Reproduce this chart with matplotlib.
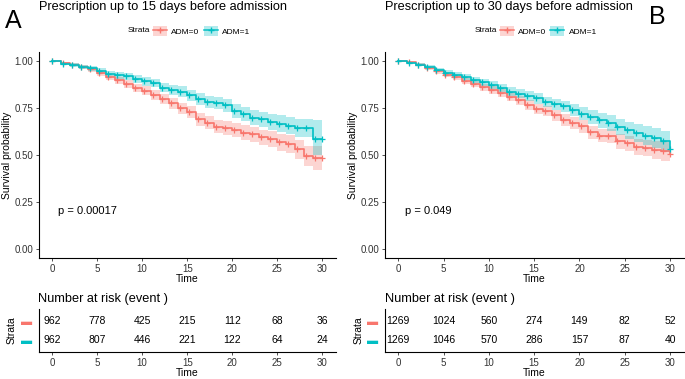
import numpy as np
import matplotlib
matplotlib.use('Agg')
import matplotlib.pyplot as plt
from matplotlib.lines import Line2D
from matplotlib.patches import Patch

plt.rcParams['font.family'] = ['Liberation Sans', 'DejaVu Sans']

RED = '#F8766D'
BLUE = '#00BFC4'

days = list(range(31))
risk_times = [0, 5, 10, 15, 20, 25, 30]
censor_days = [0, 1.2, 2.2, 3.2, 4.2, 5.2, 6.2, 7.2, 8.2, 9.2, 10.2, 11.2, 12.2, 13.2, 14.2,
               15.2, 16.2, 17.2, 18.2, 19.2, 20.2, 21.2, 22.2, 23.2, 24.2, 25.2, 26.2, 27.2,
               28.2, 29.2, 30]

# panel A: prescription up to 15 days
a_red = [1.000, 0.993, 0.983, 0.970, 0.957, 0.939, 0.917, 0.899, 0.879, 0.857, 0.843,
         0.821, 0.800, 0.777, 0.750, 0.728, 0.690, 0.672, 0.652, 0.645, 0.632, 0.620,
         0.610, 0.596, 0.584, 0.569, 0.560, 0.530, 0.497, 0.485, 0.484]
a_red_lo = [1.000, 0.987, 0.974, 0.959, 0.944, 0.924, 0.900, 0.880, 0.858, 0.834, 0.819,
            0.795, 0.772, 0.748, 0.719, 0.696, 0.656, 0.637, 0.616, 0.608, 0.594, 0.581,
            0.570, 0.555, 0.541, 0.524, 0.513, 0.480, 0.442, 0.420, 0.416]
a_red_hi = [1.000, 0.998, 0.991, 0.980, 0.969, 0.953, 0.933, 0.917, 0.898, 0.879, 0.866,
            0.846, 0.826, 0.805, 0.780, 0.759, 0.723, 0.706, 0.687, 0.681, 0.669, 0.658,
            0.649, 0.636, 0.626, 0.612, 0.605, 0.578, 0.549, 0.548, 0.548]
a_blue = [1.000, 0.988, 0.980, 0.971, 0.962, 0.948, 0.934, 0.925, 0.920, 0.906, 0.894,
          0.885, 0.860, 0.848, 0.838, 0.820, 0.800, 0.785, 0.777, 0.765, 0.737, 0.719,
          0.700, 0.690, 0.677, 0.668, 0.657, 0.646, 0.646, 0.587, 0.587]
a_blue_lo = [1.000, 0.981, 0.971, 0.960, 0.949, 0.933, 0.917, 0.907, 0.901, 0.885, 0.871,
             0.861, 0.834, 0.821, 0.809, 0.790, 0.768, 0.752, 0.743, 0.730, 0.700, 0.681,
             0.660, 0.649, 0.634, 0.624, 0.611, 0.598, 0.596, 0.500, 0.500]
a_blue_hi = [1.000, 0.995, 0.989, 0.981, 0.974, 0.962, 0.950, 0.942, 0.938, 0.926, 0.916,
             0.908, 0.885, 0.874, 0.866, 0.849, 0.831, 0.817, 0.810, 0.799, 0.773, 0.757,
             0.739, 0.730, 0.719, 0.711, 0.702, 0.693, 0.693, 0.685, 0.685]
a_risk_red = [962, 778, 425, 215, 112, 68, 36]
a_risk_blue = [962, 807, 446, 221, 122, 64, 24]

# panel B: prescription up to 30 days
b_red = [1.000, 0.995, 0.982, 0.964, 0.946, 0.928, 0.914, 0.896, 0.878, 0.861, 0.847,
         0.829, 0.811, 0.793, 0.766, 0.748, 0.734, 0.712, 0.688, 0.671, 0.653, 0.622,
         0.604, 0.600, 0.573, 0.562, 0.541, 0.537, 0.527, 0.520, 0.505]
b_red_lo = [1.000, 0.991, 0.975, 0.955, 0.935, 0.915, 0.900, 0.880, 0.861, 0.842, 0.827,
            0.808, 0.788, 0.769, 0.740, 0.721, 0.706, 0.682, 0.657, 0.639, 0.619, 0.587,
            0.568, 0.563, 0.534, 0.521, 0.498, 0.492, 0.479, 0.469, 0.450]
b_red_hi = [1.000, 0.999, 0.989, 0.973, 0.957, 0.941, 0.928, 0.912, 0.895, 0.880, 0.867,
            0.850, 0.834, 0.817, 0.792, 0.775, 0.762, 0.742, 0.719, 0.703, 0.687, 0.657,
            0.640, 0.637, 0.612, 0.603, 0.584, 0.582, 0.575, 0.571, 0.560]
b_blue = [1.000, 0.990, 0.982, 0.970, 0.955, 0.940, 0.928, 0.914, 0.900, 0.888, 0.874,
          0.856, 0.838, 0.826, 0.815, 0.802, 0.784, 0.770, 0.760, 0.742, 0.721, 0.703,
          0.685, 0.671, 0.649, 0.631, 0.617, 0.604, 0.592, 0.573, 0.532]
b_blue_lo = [1.000, 0.985, 0.975, 0.961, 0.944, 0.927, 0.914, 0.898, 0.883, 0.870, 0.854,
             0.835, 0.815, 0.802, 0.790, 0.775, 0.756, 0.740, 0.729, 0.709, 0.686, 0.666,
             0.646, 0.630, 0.606, 0.586, 0.570, 0.554, 0.539, 0.516, 0.472]
b_blue_hi = [1.000, 0.995, 0.989, 0.979, 0.966, 0.953, 0.942, 0.930, 0.917, 0.906, 0.894,
             0.877, 0.861, 0.850, 0.840, 0.829, 0.812, 0.800, 0.791, 0.775, 0.756, 0.740,
             0.724, 0.712, 0.692, 0.676, 0.664, 0.654, 0.645, 0.630, 0.592]
b_risk_red = [1269, 1024, 560, 274, 149, 82, 52]
b_risk_blue = [1269, 1046, 570, 286, 157, 87, 40]

W, H = 685, 379
fig = plt.figure(figsize=(W / 100, H / 100), dpi=100)


def add_ax(l, t, r, b):
    return fig.add_axes([l / W, 1 - b / H, (r - l) / W, (b - t) / H])


def style_axis(ax):
    for s in ['top', 'right']:
        ax.spines[s].set_visible(False)
    for s in ['left', 'bottom']:
        ax.spines[s].set_color('black')
        ax.spines[s].set_linewidth(0.8)
    ax.tick_params(colors='#333333', labelsize=7, length=2.5, width=0.6, pad=1.5)
    ax.set_xlim(-1.5, 31.5)
    ax.set_xticks(risk_times)


def survival_panel(ax, groups, pval):
    for s, lo, hi, col in groups:
        ax.fill_between(days, lo, hi, step='post', color=col, alpha=0.3, lw=0)
    for s, lo, hi, col in groups:
        ax.step(days, s, where='post', color=col, lw=1.2)
        ax.plot(censor_days, [s[int(t)] for t in censor_days], '+', color=col, ms=5, mew=0.9)
    style_axis(ax)
    ax.set_ylim(-0.05, 1.05)
    ax.set_yticks([0, 0.25, 0.5, 0.75, 1.0])
    ax.set_yticklabels(['0.00', '0.25', '0.50', '0.75', '1.00'])
    ax.set_ylabel('Survival probability', fontsize=7.5, labelpad=1.5)
    ax.set_xlabel('Time', fontsize=7.5, labelpad=0)
    ax.text(0.7, 0.2, 'p = ' + pval, fontsize=8, ha='left', va='center')


def risk_panel(ax, red, blue):
    for t, r, b in zip(risk_times, red, blue):
        ax.text(t, 2, str(r), ha='center', va='center', fontsize=7.5)
        ax.text(t, 1, str(b), ha='center', va='center', fontsize=7.5)
    style_axis(ax)
    ax.set_ylim(0.4, 2.6)
    ax.set_yticks([1, 2])
    ax.set_yticklabels(['\u25ac', '\u25ac'], fontsize=8)
    ax.get_yticklabels()[0].set_color(BLUE)
    ax.get_yticklabels()[1].set_color(RED)
    ax.tick_params(axis='y', length=0, pad=4.5)
    ax.set_ylabel('Strata', fontsize=7.5, labelpad=3)
    ax.set_xlabel('Time', fontsize=7.5, labelpad=0)
    ax.set_title('Number at risk (event )', loc='left', fontsize=9.2, pad=5)


def legend(x, y):
    handles = [(Patch(color=RED, alpha=0.3, lw=0), Line2D([], [], color=RED, lw=1.1, marker='+', ms=5)),
               (Patch(color=BLUE, alpha=0.3, lw=0), Line2D([], [], color=BLUE, lw=1.1, marker='+', ms=5))]
    fig.text(x / W, 1 - y / H, 'Strata', fontsize=6, va='center', ha='left')
    fig.legend(handles, ['ADM=0', 'ADM=1'], loc='center left', ncol=2,
               bbox_to_anchor=((x + 25) / W, 1 - y / H), frameon=False, fontsize=6,
               handlelength=1.7, handleheight=1.4, handletextpad=0.5, columnspacing=0.5,
               borderpad=0, borderaxespad=0)


axA = add_ax(38.5, 52, 336, 258)
survival_panel(axA, [(a_red, a_red_lo, a_red_hi, RED), (a_blue, a_blue_lo, a_blue_hi, BLUE)], '0.00017')
axB = add_ax(384.7, 52, 683.6, 258)
survival_panel(axB, [(b_red, b_red_lo, b_red_hi, RED), (b_blue, b_blue_lo, b_blue_hi, BLUE)], '0.049')

tA = add_ax(38.5, 309, 336, 352)
risk_panel(tA, a_risk_red, a_risk_blue)
tB = add_ax(384.7, 309, 683.6, 352)
risk_panel(tB, b_risk_red, b_risk_blue)

fig.text(39 / W, 1 - 1 / H, 'Prescription up to 15 days before admission', fontsize=9.2, va='top')
fig.text(385 / W, 1 - 1 / H, 'Prescription up to 30 days before admission', fontsize=9.2, va='top')
fig.text(5 / W, 1 - 21 / H, 'A', fontsize=18, va='center')
fig.text(649 / W, 1 - 17 / H, 'B', fontsize=18, va='center')
legend(128, 31)
legend(474.5, 31)

fig.savefig('out.png', dpi=100)
